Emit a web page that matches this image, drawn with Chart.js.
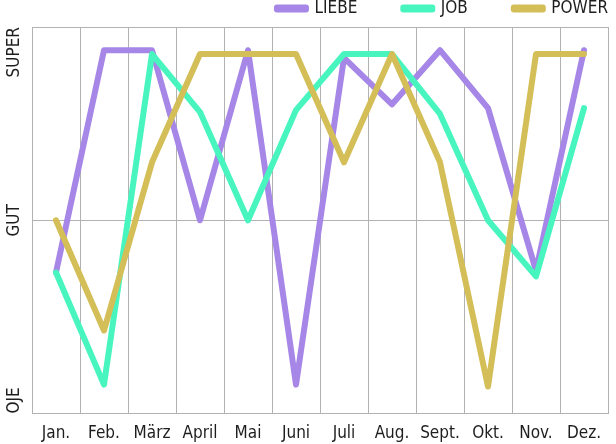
<!DOCTYPE html>
<html>
<head>
<meta charset="utf-8">
<script src="https://cdn.jsdelivr.net/npm/chart.js@4/dist/chart.umd.min.js"></script>
<style>
  html, body { margin: 0; padding: 0; background: #ffffff; }
  #wrap { width: 616px; height: 444px; }
</style>
</head>
<body>
<div id="wrap"><canvas id="c" width="616" height="444"></canvas></div>
<script>
const months = ['Jan.', 'Feb.', 'März', 'April', 'Mai', 'Juni', 'Juli', 'Aug.', 'Sept.', 'Okt.', 'Nov.', 'Dez.'];
const liebe = [36.5, 94, 94, 50, 94, 7.5, 92, 80, 94, 79, 37, 94];
const job = [36.5, 7.5, 93, 78, 50, 78.5, 93, 93, 77.5, 50, 35.5, 79];
const power = [50, 21.5, 65, 93, 93, 93, 65, 93, 65, 7, 93, 93];
const seriesNames = ['LIEBE', 'JOB', 'POWER'];
const yTickValues = [0, 50, 100];
const yTickLabels = ['OJE', 'GUT', 'SUPER'];

const FONT = "'Liberation Sans Narrow', 'DejaVu Sans Condensed', 'Roboto', sans-serif";
const FSIZE = 17;
const TEXT = '#1e1e1e';
const GRID = '#b2b2b2';
const COLORS = ['#a686e6', '#48f5be', '#d4be58'];

function ds(label, data, color, order) {
  return {
    label, data, order,
    borderColor: color, backgroundColor: color,
    borderWidth: 6, tension: 0,
    pointRadius: 0, pointHoverRadius: 0,
    borderCapStyle: 'round', borderJoinStyle: 'round',
    yAxisID: 'y'
  };
}

const yLabelPlugin = {
  id: 'yLabels',
  afterDraw(chart) {
    const ctx = chart.ctx;
    const ys = chart.scales.y;
    ctx.save();
    ctx.font = FSIZE + 'px ' + FONT;
    ctx.fillStyle = TEXT;
    ctx.textBaseline = 'middle';
    yTickValues.forEach((v, i) => {
      const py = ys.getPixelForValue(v);
      ctx.save();
      ctx.translate(14.5, py);
      ctx.rotate(-Math.PI / 2);
      ctx.textAlign = i === 0 ? 'left' : (i === yTickValues.length - 1 ? 'right' : 'center');
      ctx.fillText(yTickLabels[i], 0, 0);
      ctx.restore();
    });
    ctx.restore();
  }
};

new Chart(document.getElementById('c'), {
  type: 'line',
  data: {
    labels: months,
    datasets: [
      ds(seriesNames[0], liebe, COLORS[0], 2),
      ds(seriesNames[1], job, COLORS[1], 1),
      ds(seriesNames[2], power, COLORS[2], 0)
    ]
  },
  options: {
    responsive: false,
    devicePixelRatio: 1,
    animation: false,
    layout: { padding: { top: -46, right: -38, left: 0, bottom: -10 } },
    plugins: {
      tooltip: { enabled: false },
      legend: {
        position: 'top',
        align: 'end',
        labels: {
          sort: (a, b) => a.datasetIndex - b.datasetIndex,
          boxWidth: 29,
          boxHeight: 2,
          padding: 46,
          color: TEXT,
          font: { family: FONT, size: FSIZE }
        }
      }
    },
    scales: {
      x: {
        offset: true,
        grid: { offset: true, color: GRID, drawTicks: false },
        border: { color: GRID },
        ticks: { color: TEXT, padding: 10, font: { family: FONT, size: FSIZE }, maxRotation: 0, autoSkip: false }
      },
      y: {
        min: 0, max: 100,
        grid: { color: GRID, drawTicks: false },
        border: { color: GRID },
        ticks: { display: false, stepSize: 50 },
        afterFit: s => { s.width = 32; }
      },
      y2: {
        position: 'right',
        display: true,
        min: 0, max: 100,
        grid: { display: false, drawTicks: false },
        border: { display: false },
        ticks: { display: false },
        afterFit: s => { s.width = 46; }
      }
    }
  },
  plugins: [yLabelPlugin]
});
</script>
</body>
</html>
